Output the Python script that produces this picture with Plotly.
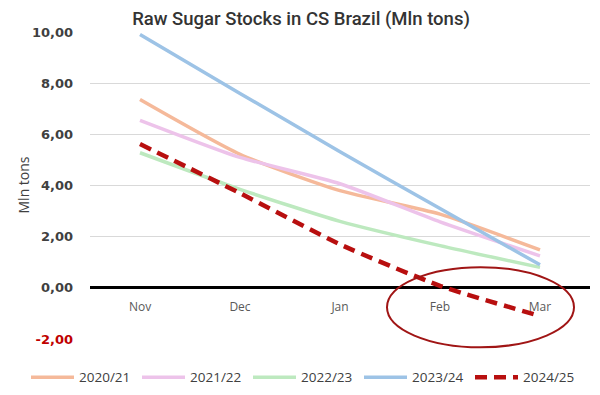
import plotly.graph_objects as go

months = ["Nov", "Dec", "Jan", "Feb", "Mar"]
s2020 = [7.36, 5.22, 3.80, 2.88, 1.48]
s2021 = [6.55, 5.10, 4.07, 2.58, 1.25]
s2022 = [5.28, 3.85, 2.60, 1.65, 0.80]
s2023 = [9.90, 7.60, 5.32, 3.10, 0.90]
s2024 = [5.62, 3.70, 1.70, 0.08, -1.10]

series_names = ["2020/21", "2021/22", "2022/23", "2023/24", "2024/25"]
y_tickvals = [-2, 0, 2, 4, 6, 8, 10]
y_ticktext = ["<span style='color:#C00000'>-2,00</span>", "0,00", "2,00",
              "4,00", "6,00", "8,00", "10,00"]
y_title = "Mln tons"

colors = ["#F5B99A", "#EDC3EA", "#BDE9BF", "#9DC3E6", "#B80F0F"]
data = [s2020, s2021, s2022, s2023, s2024]

fig = go.Figure()
for name, vals, col in zip(series_names, data, colors):
    dashed = name == "2024/25"
    fig.add_trace(go.Scatter(
        x=months, y=vals, name=name, mode="lines",
        line=dict(color=col, width=4.5 if dashed else 3.5, shape="spline", smoothing=0.6,
                  dash="12px,7px" if dashed else "solid"),
    ))

fig.add_shape(type="circle", xref="x", yref="paper", x0=2.47, x1=4.34, y0=-0.027, y1=0.234,
              line=dict(color="#A01515", width=2))

fig.add_annotation(text=y_title, xref="paper", yref="paper", x=-0.134, y=0.5,
                   xanchor="center", yanchor="middle", textangle=-90, showarrow=False,
                   font=dict(family="Open Sans", size=14, color="#404040", weight=500))

# page has an 8px body margin, so the figure is 592x387 at offset (8,8)
fig.update_layout(
    width=592, height=387,
    margin=dict(l=82, r=10, t=24, b=56, autoexpand=False),
    paper_bgcolor="white", plot_bgcolor="white",
    separators=",.",
    font=dict(family="Open Sans", color="#404040"),
    title=dict(text="Raw Sugar Stocks in CS Brazil (Mln tons)", x=0.495, xanchor="center",
               y=0.972, yanchor="middle",
               font=dict(family="Roboto", size=18.5, color="#333333", weight=500)),
    showlegend=True,
    legend=dict(orientation="h", x=-0.128, xanchor="left", y=-0.125, yanchor="middle",
                font=dict(size=13.5, color="#404040"), itemwidth=43,
                entrywidth=53, entrywidthmode="pixels", tracegroupgap=0),
    xaxis=dict(type="category", range=[-0.5, 4.5], showgrid=False, showline=False,
               ticks="", anchor="free", position=0.163, automargin=False, ticklabelstandoff=9,
               tickfont=dict(size=12, color="#595959")),
    yaxis=dict(range=[-2, 10], tickvals=y_tickvals, ticktext=y_ticktext, automargin=False,
               showgrid=True, gridcolor="#D9D9D9", gridwidth=1, ticklabelstandoff=16,
               zeroline=True, zerolinecolor="#000000", zerolinewidth=2.5,
               tickfont=dict(family="DejaVu Sans", size=13, color="#404040", weight="bold")),
)

fig.write_html("out.html")
